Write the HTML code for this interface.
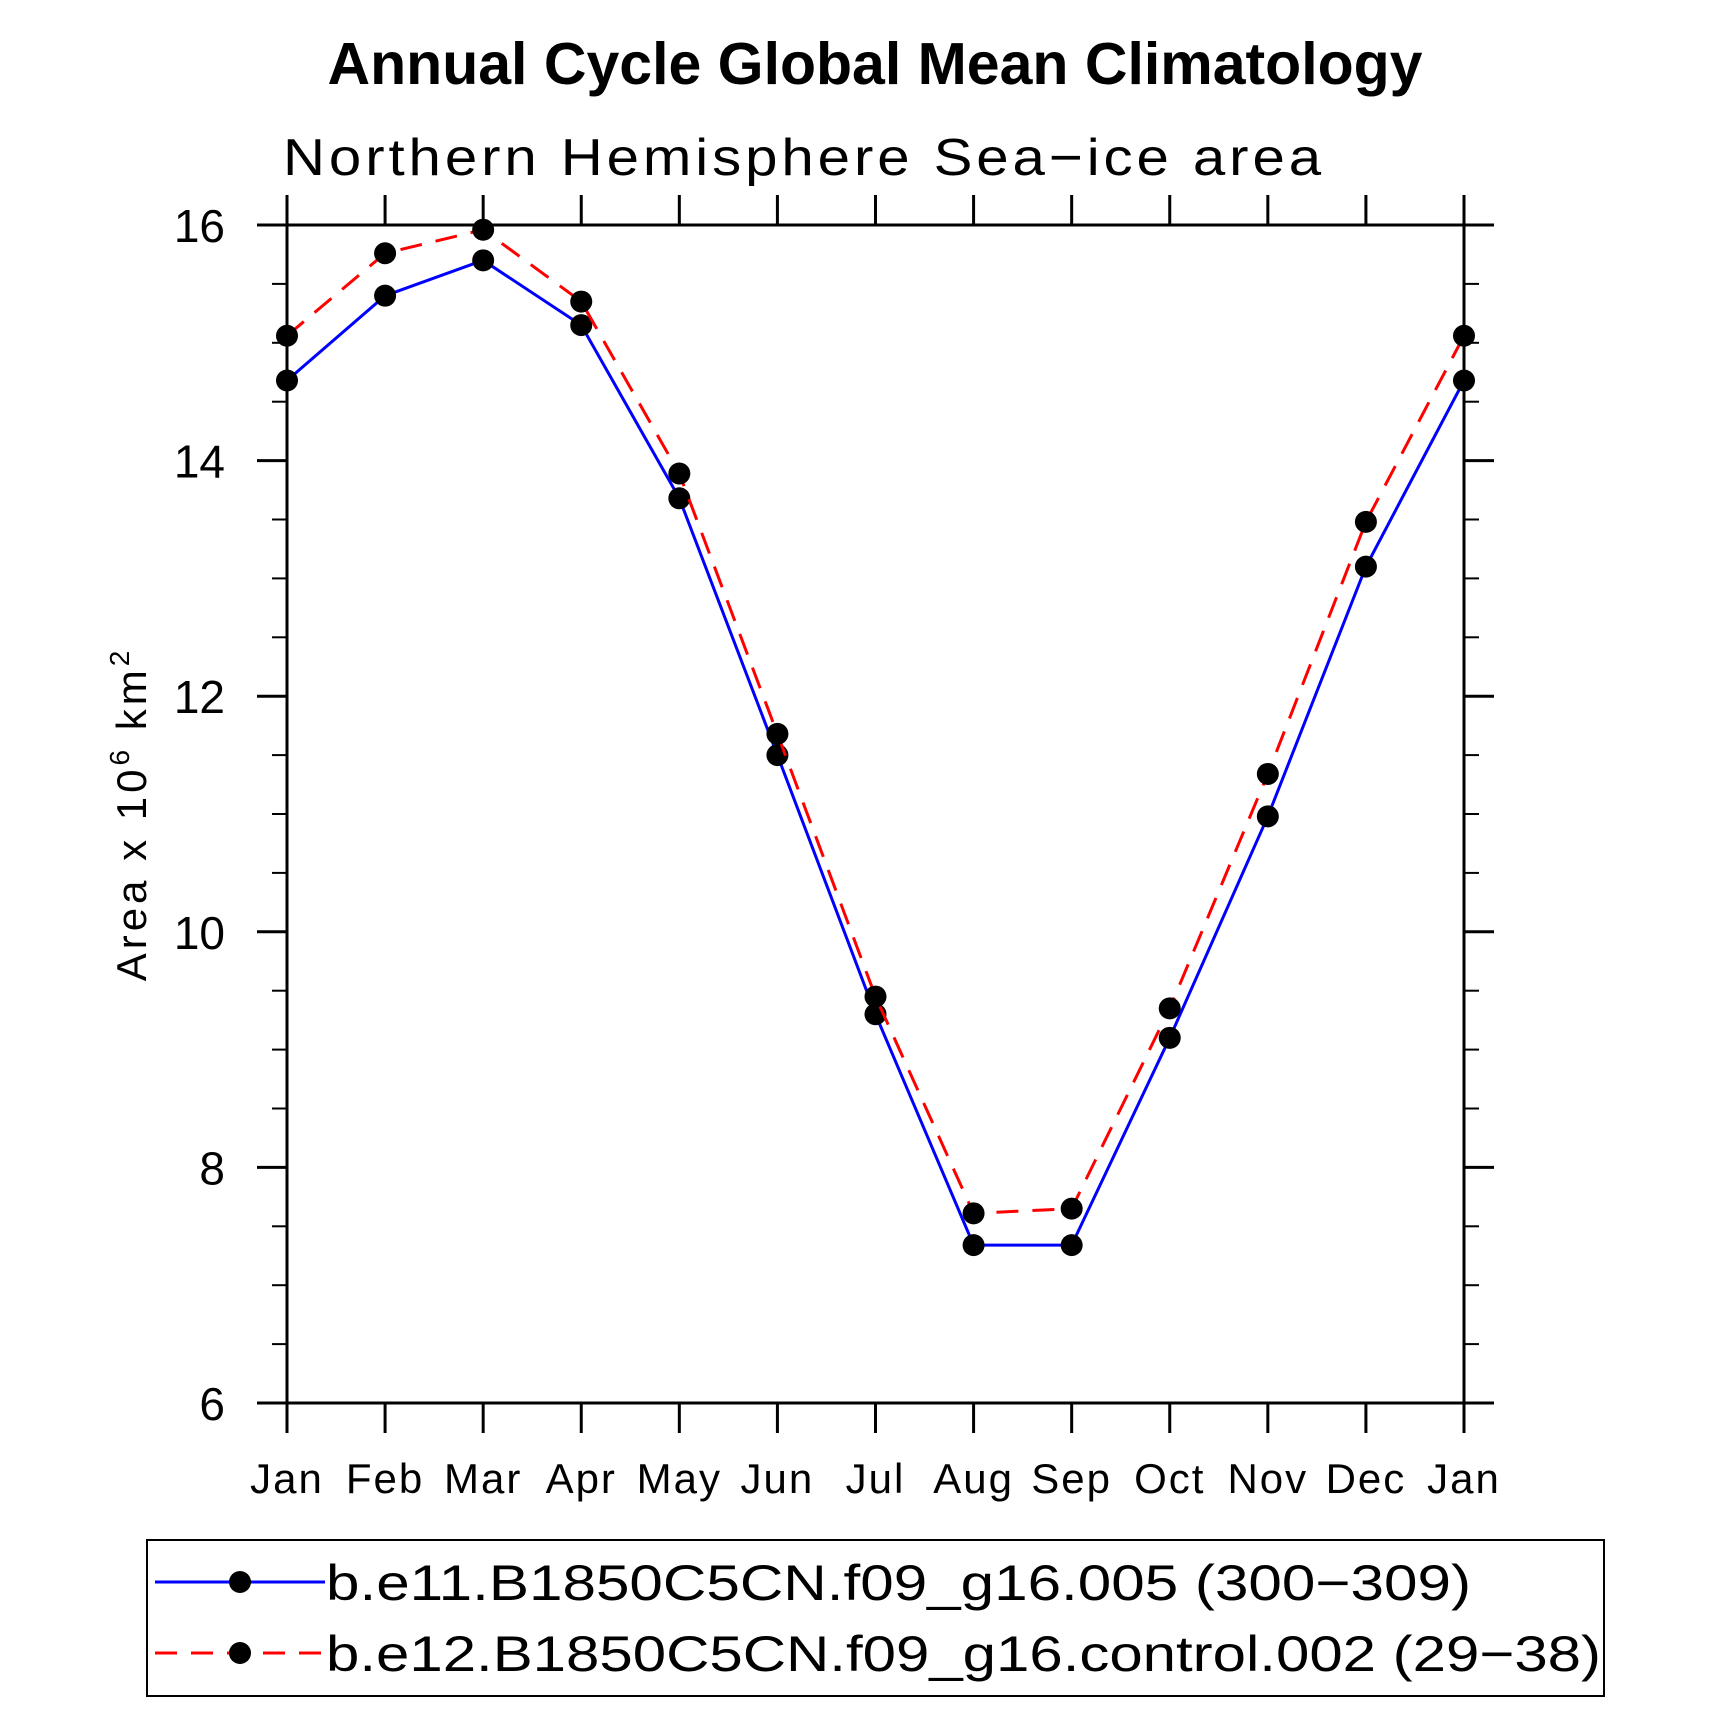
<!DOCTYPE html>
<html><head><meta charset="utf-8"><style>
html,body{margin:0;padding:0;background:#fff;}
svg{display:block;}
text{font-family:"Liberation Sans",sans-serif;}
</style></head><body>
<svg id="chart" width="1710" height="1736" viewBox="0 0 1710 1736" xmlns="http://www.w3.org/2000/svg">
<text x="875" y="84" text-anchor="middle" font-size="59" font-weight="bold">Annual Cycle Global Mean Climatology</text>
<text x="283" y="175" font-size="52" font-weight="300" letter-spacing="3.5" textLength="1042" lengthAdjust="spacingAndGlyphs">Northern Hemisphere Sea−ice area</text>
<text transform="translate(146,814) rotate(-90)" text-anchor="middle" font-size="42" letter-spacing="4">Area x 10<tspan dy="-17" font-size="28">6</tspan><tspan dy="17"> km</tspan><tspan dy="-17" font-size="28">2</tspan></text>
<g id="axes"></g>
<g id="series"></g>
<g>
<rect x="147" y="1540" width="1457" height="156" fill="none" stroke="#000" stroke-width="2"/>
<line x1="155" y1="1582" x2="325" y2="1582" stroke="#0000ff" stroke-width="3"/>
<circle cx="240" cy="1582" r="11"/>
<text x="326" y="1600" font-size="50" font-weight="300" textLength="1145" lengthAdjust="spacingAndGlyphs">b.e11.B1850C5CN.f09_g16.005 (300−309)</text>
<line x1="155" y1="1653" x2="325" y2="1653" stroke="#ff0000" stroke-width="3" stroke-dasharray="22,14"/>
<circle cx="240" cy="1653" r="11"/>
<text x="326" y="1671" font-size="50" font-weight="300" textLength="1275" lengthAdjust="spacingAndGlyphs">b.e12.B1850C5CN.f09_g16.control.002 (29−38)</text>
</g>
</svg>
<script>
const months = ["Jan","Feb","Mar","Apr","May","Jun","Jul","Aug","Sep","Oct","Nov","Dec","Jan"];
const blueValues = [14.68,15.4,15.7,15.15,13.68,11.5,9.3,7.34,7.34,9.1,10.98,13.1,14.68];
const redValues = [15.06,15.76,15.96,15.35,13.89,11.68,9.45,7.61,7.65,9.35,11.34,13.48,15.06];
const yTicks = [6,8,10,12,14,16];
const yMinorTicks = [6.5,7,7.5,8.5,9,9.5,10.5,11,11.5,12.5,13,13.5,14.5,15,15.5];

const NS="http://www.w3.org/2000/svg";
const L=287,R=1464,T=225,B=1403,yMin=6,yMax=16;
function xs(i){return L+(R-L)*i/(months.length-1);}
function ys(v){return B-(B-T)*(v-yMin)/(yMax-yMin);}
function mk(tag,attrs,parent){const e=document.createElementNS(NS,tag);for(const k in attrs)e.setAttribute(k,attrs[k]);parent.appendChild(e);return e;}
const ax=document.getElementById('axes');
const sw={stroke:"#000","stroke-width":3};
let e;
e=mk('line',Object.assign({x1:L-30,y1:T,x2:R+30,y2:T},sw),ax);


e=mk('line',Object.assign({x1:L-30,y1:B,x2:R+30,y2:B},sw),ax);


e=mk('line',Object.assign({x1:L,y1:T-30,x2:L,y2:B+30},sw),ax);


e=mk('line',Object.assign({x1:R,y1:T-30,x2:R,y2:B+30},sw),ax);


months.forEach((m,i)=>{
  const x=xs(i);
  e=mk('line',Object.assign({x1:x,y1:T-30,x2:x,y2:T},sw),ax);
  
  
  e=mk('line',Object.assign({x1:x,y1:B,x2:x,y2:B+30},sw),ax);
  
  
  e=mk('text',{x:x,y:B+90,"text-anchor":"middle","font-size":"42","font-weight":"300","letter-spacing":"2"},ax);
  e.textContent=m;
  
  
});
yTicks.forEach(v=>{
  const y=ys(v);
  e=mk('line',Object.assign({x1:L-30,y1:y,x2:L,y2:y},sw),ax);
  
  
  e=mk('line',Object.assign({x1:R,y1:y,x2:R+30,y2:y},sw),ax);
  
  
  e=mk('text',{x:L-62,y:y+17,"text-anchor":"end","font-size":"46","font-weight":"300"},ax);
  e.textContent=v;
  
  
});
yMinorTicks.forEach(v=>{
  const y=ys(v);
  e=mk('line',{x1:L-15,y1:y,x2:L,y2:y,stroke:"#000","stroke-width":2},ax);
  
  
  e=mk('line',{x1:R,y1:y,x2:R+15,y2:y,stroke:"#000","stroke-width":2},ax);
  
  
});
const sg=document.getElementById('series');
function drawSeries(vals,color,dash,name){
  const pts=vals.map((v,i)=>xs(i)+","+ys(v)).join(" ");
  const a={points:pts,fill:"none",stroke:color,"stroke-width":3};
  if(dash)a["stroke-dasharray"]=dash;
  e=mk('polyline',a,sg);
  
  
  vals.forEach((v,i)=>{
    e=mk('circle',{cx:xs(i),cy:ys(v),r:11,fill:"#000"},sg);
    
    
  });
}
drawSeries(blueValues,"#0000ff",null,"blue-series");
drawSeries(redValues,"#ff0000","22,14","red-series");
</script>
</body></html>
